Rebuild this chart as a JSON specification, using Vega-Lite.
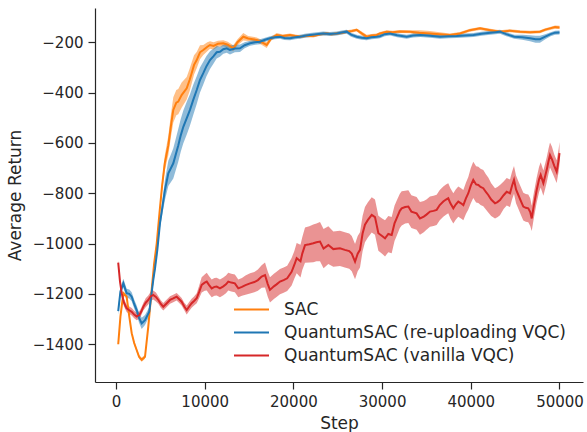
{
"$schema": "https://vega.github.io/schema/vega-lite/v6.json",
"width": 488, "height": 374,
"autosize": {"type": "none"},
"padding": {"left": 95, "top": 8, "right": 4, "bottom": 50},
"background": "white",
"config": {
 "view": {"stroke": null},
 "font": "DejaVu Sans",
 "axis": {"domainColor": "#262626", "tickColor": "#262626", "labelColor": "#262626", "titleColor": "#262626", "labelFont": "DejaVu Sans", "titleFont": "DejaVu Sans", "labelFontSize": 15, "titleFontSize": 17, "titleFontWeight": "normal", "tickSize": 7, "tickWidth": 1.2, "domainWidth": 1.2, "grid": false, "labelPadding": 5}
},
"data": {"values": [
{"s":"SAC","x":250,"y":-1400,"lo":-1405,"hi":-1395},
{"s":"SAC","x":500,"y":-1290,"lo":-1298,"hi":-1282},
{"s":"SAC","x":830,"y":-1197,"lo":-1205,"hi":-1189},
{"s":"SAC","x":1200,"y":-1211,"lo":-1219,"hi":-1203},
{"s":"SAC","x":1500,"y":-1290,"lo":-1298,"hi":-1282},
{"s":"SAC","x":1770,"y":-1356,"lo":-1364,"hi":-1348},
{"s":"SAC","x":2050,"y":-1395,"lo":-1403,"hi":-1387},
{"s":"SAC","x":2330,"y":-1423,"lo":-1431,"hi":-1415},
{"s":"SAC","x":2600,"y":-1450,"lo":-1458,"hi":-1442},
{"s":"SAC","x":2900,"y":-1462,"lo":-1470,"hi":-1454},
{"s":"SAC","x":3270,"y":-1450,"lo":-1458,"hi":-1442},
{"s":"SAC","x":3640,"y":-1330,"lo":-1338,"hi":-1322},
{"s":"SAC","x":4020,"y":-1184,"lo":-1192,"hi":-1176},
{"s":"SAC","x":4300,"y":-1080,"lo":-1090,"hi":-1070},
{"s":"SAC","x":4590,"y":-1000,"lo":-1012,"hi":-988},
{"s":"SAC","x":4900,"y":-880,"lo":-895,"hi":-865},
{"s":"SAC","x":5200,"y":-770,"lo":-790,"hi":-750},
{"s":"SAC","x":5500,"y":-680,"lo":-710,"hi":-650},
{"s":"SAC","x":5900,"y":-610,"lo":-648,"hi":-572},
{"s":"SAC","x":6200,"y":-530,"lo":-575,"hi":-485},
{"s":"SAC","x":6460,"y":-469,"lo":-519,"hi":-419},
{"s":"SAC","x":6800,"y":-440,"lo":-490,"hi":-390},
{"s":"SAC","x":7020,"y":-436,"lo":-486,"hi":-386},
{"s":"SAC","x":7400,"y":-410,"lo":-460,"hi":-360},
{"s":"SAC","x":7970,"y":-383,"lo":-428,"hi":-338},
{"s":"SAC","x":8300,"y":-350,"lo":-395,"hi":-305},
{"s":"SAC","x":8530,"y":-323,"lo":-365,"hi":-281},
{"s":"SAC","x":8800,"y":-290,"lo":-328,"hi":-252},
{"s":"SAC","x":9100,"y":-271,"lo":-303,"hi":-239},
{"s":"SAC","x":9470,"y":-240,"lo":-268,"hi":-212},
{"s":"SAC","x":9840,"y":-231,"lo":-251,"hi":-211},
{"s":"SAC","x":10300,"y":-218,"lo":-236,"hi":-200},
{"s":"SAC","x":10600,"y":-211,"lo":-226,"hi":-196},
{"s":"SAC","x":11000,"y":-215,"lo":-230,"hi":-200},
{"s":"SAC","x":11500,"y":-206,"lo":-218,"hi":-194},
{"s":"SAC","x":12100,"y":-204,"lo":-216,"hi":-192},
{"s":"SAC","x":12600,"y":-210,"lo":-222,"hi":-198},
{"s":"SAC","x":13220,"y":-224,"lo":-236,"hi":-212},
{"s":"SAC","x":13700,"y":-200,"lo":-212,"hi":-188},
{"s":"SAC","x":14350,"y":-178,"lo":-193,"hi":-163},
{"s":"SAC","x":14900,"y":-185,"lo":-195,"hi":-175},
{"s":"SAC","x":15860,"y":-191,"lo":-201,"hi":-181},
{"s":"SAC","x":16400,"y":-200,"lo":-210,"hi":-190},
{"s":"SAC","x":16990,"y":-211,"lo":-223,"hi":-199},
{"s":"SAC","x":17500,"y":-185,"lo":-193,"hi":-177},
{"s":"SAC","x":18120,"y":-171,"lo":-179,"hi":-163},
{"s":"SAC","x":18800,"y":-175,"lo":-181,"hi":-169},
{"s":"SAC","x":19620,"y":-171,"lo":-177,"hi":-165},
{"s":"SAC","x":20200,"y":-175,"lo":-181,"hi":-169},
{"s":"SAC","x":20740,"y":-178,"lo":-184,"hi":-172},
{"s":"SAC","x":21500,"y":-174,"lo":-180,"hi":-168},
{"s":"SAC","x":22240,"y":-175,"lo":-181,"hi":-169},
{"s":"SAC","x":23000,"y":-168,"lo":-174,"hi":-162},
{"s":"SAC","x":23750,"y":-165,"lo":-171,"hi":-159},
{"s":"SAC","x":24300,"y":-168,"lo":-174,"hi":-162},
{"s":"SAC","x":24880,"y":-165,"lo":-171,"hi":-159},
{"s":"SAC","x":25500,"y":-162,"lo":-168,"hi":-156},
{"s":"SAC","x":26010,"y":-158,"lo":-164,"hi":-152},
{"s":"SAC","x":26600,"y":-155,"lo":-161,"hi":-149},
{"s":"SAC","x":27140,"y":-151,"lo":-157,"hi":-145},
{"s":"SAC","x":27700,"y":-165,"lo":-173,"hi":-157},
{"s":"SAC","x":28260,"y":-178,"lo":-186,"hi":-170},
{"s":"SAC","x":28800,"y":-173,"lo":-179,"hi":-167},
{"s":"SAC","x":29390,"y":-171,"lo":-177,"hi":-165},
{"s":"SAC","x":29760,"y":-165,"lo":-171,"hi":-159},
{"s":"SAC","x":30520,"y":-158,"lo":-164,"hi":-152},
{"s":"SAC","x":31200,"y":-160,"lo":-166,"hi":-154},
{"s":"SAC","x":32000,"y":-157,"lo":-163,"hi":-151},
{"s":"SAC","x":33150,"y":-158,"lo":-164,"hi":-152},
{"s":"SAC","x":34200,"y":-162,"lo":-172,"hi":-152},
{"s":"SAC","x":35400,"y":-165,"lo":-175,"hi":-155},
{"s":"SAC","x":36500,"y":-168,"lo":-176,"hi":-160},
{"s":"SAC","x":37650,"y":-171,"lo":-177,"hi":-165},
{"s":"SAC","x":38780,"y":-165,"lo":-171,"hi":-159},
{"s":"SAC","x":39900,"y":-152,"lo":-158,"hi":-146},
{"s":"SAC","x":41040,"y":-145,"lo":-151,"hi":-139},
{"s":"SAC","x":42200,"y":-152,"lo":-158,"hi":-146},
{"s":"SAC","x":43290,"y":-158,"lo":-164,"hi":-152},
{"s":"SAC","x":44400,"y":-154,"lo":-160,"hi":-148},
{"s":"SAC","x":45550,"y":-158,"lo":-164,"hi":-152},
{"s":"SAC","x":46700,"y":-160,"lo":-166,"hi":-154},
{"s":"SAC","x":47800,"y":-158,"lo":-164,"hi":-152},
{"s":"SAC","x":48400,"y":-150,"lo":-156,"hi":-144},
{"s":"SAC","x":48930,"y":-145,"lo":-151,"hi":-139},
{"s":"SAC","x":49500,"y":-140,"lo":-146,"hi":-134},
{"s":"SAC","x":50000,"y":-141,"lo":-147,"hi":-135},
{"s":"QuantumSAC (re-uploading VQC)","x":250,"y":-1268,"lo":-1283,"hi":-1253},
{"s":"QuantumSAC (re-uploading VQC)","x":500,"y":-1190,"lo":-1205,"hi":-1175},
{"s":"QuantumSAC (re-uploading VQC)","x":830,"y":-1158,"lo":-1176,"hi":-1140},
{"s":"QuantumSAC (re-uploading VQC)","x":1200,"y":-1197,"lo":-1215,"hi":-1179},
{"s":"QuantumSAC (re-uploading VQC)","x":1500,"y":-1200,"lo":-1218,"hi":-1182},
{"s":"QuantumSAC (re-uploading VQC)","x":1770,"y":-1211,"lo":-1229,"hi":-1193},
{"s":"QuantumSAC (re-uploading VQC)","x":2050,"y":-1240,"lo":-1258,"hi":-1222},
{"s":"QuantumSAC (re-uploading VQC)","x":2330,"y":-1264,"lo":-1282,"hi":-1246},
{"s":"QuantumSAC (re-uploading VQC)","x":2600,"y":-1295,"lo":-1315,"hi":-1275},
{"s":"QuantumSAC (re-uploading VQC)","x":2900,"y":-1317,"lo":-1339,"hi":-1295},
{"s":"QuantumSAC (re-uploading VQC)","x":3270,"y":-1304,"lo":-1324,"hi":-1284},
{"s":"QuantumSAC (re-uploading VQC)","x":3750,"y":-1271,"lo":-1289,"hi":-1253},
{"s":"QuantumSAC (re-uploading VQC)","x":4200,"y":-1145,"lo":-1160,"hi":-1130},
{"s":"QuantumSAC (re-uploading VQC)","x":4400,"y":-1098,"lo":-1113,"hi":-1083},
{"s":"QuantumSAC (re-uploading VQC)","x":4660,"y":-1025,"lo":-1040,"hi":-1010},
{"s":"QuantumSAC (re-uploading VQC)","x":4960,"y":-919,"lo":-937,"hi":-901},
{"s":"QuantumSAC (re-uploading VQC)","x":5250,"y":-850,"lo":-878,"hi":-822},
{"s":"QuantumSAC (re-uploading VQC)","x":5520,"y":-787,"lo":-827,"hi":-747},
{"s":"QuantumSAC (re-uploading VQC)","x":5900,"y":-721,"lo":-771,"hi":-671},
{"s":"QuantumSAC (re-uploading VQC)","x":6200,"y":-700,"lo":-755,"hi":-645},
{"s":"QuantumSAC (re-uploading VQC)","x":6460,"y":-681,"lo":-741,"hi":-621},
{"s":"QuantumSAC (re-uploading VQC)","x":7020,"y":-610,"lo":-675,"hi":-545},
{"s":"QuantumSAC (re-uploading VQC)","x":7300,"y":-570,"lo":-635,"hi":-505},
{"s":"QuantumSAC (re-uploading VQC)","x":7590,"y":-536,"lo":-601,"hi":-471},
{"s":"QuantumSAC (re-uploading VQC)","x":8000,"y":-500,"lo":-565,"hi":-435},
{"s":"QuantumSAC (re-uploading VQC)","x":8340,"y":-469,"lo":-531,"hi":-407},
{"s":"QuantumSAC (re-uploading VQC)","x":8700,"y":-430,"lo":-490,"hi":-370},
{"s":"QuantumSAC (re-uploading VQC)","x":9100,"y":-390,"lo":-445,"hi":-335},
{"s":"QuantumSAC (re-uploading VQC)","x":9470,"y":-350,"lo":-400,"hi":-300},
{"s":"QuantumSAC (re-uploading VQC)","x":9840,"y":-323,"lo":-368,"hi":-278},
{"s":"QuantumSAC (re-uploading VQC)","x":10200,"y":-295,"lo":-335,"hi":-255},
{"s":"QuantumSAC (re-uploading VQC)","x":10600,"y":-271,"lo":-306,"hi":-236},
{"s":"QuantumSAC (re-uploading VQC)","x":11000,"y":-255,"lo":-285,"hi":-225},
{"s":"QuantumSAC (re-uploading VQC)","x":11350,"y":-240,"lo":-265,"hi":-215},
{"s":"QuantumSAC (re-uploading VQC)","x":11720,"y":-238,"lo":-258,"hi":-218},
{"s":"QuantumSAC (re-uploading VQC)","x":12100,"y":-228,"lo":-246,"hi":-210},
{"s":"QuantumSAC (re-uploading VQC)","x":12480,"y":-224,"lo":-242,"hi":-206},
{"s":"QuantumSAC (re-uploading VQC)","x":12850,"y":-231,"lo":-249,"hi":-213},
{"s":"QuantumSAC (re-uploading VQC)","x":13400,"y":-225,"lo":-240,"hi":-210},
{"s":"QuantumSAC (re-uploading VQC)","x":13980,"y":-224,"lo":-239,"hi":-209},
{"s":"QuantumSAC (re-uploading VQC)","x":14500,"y":-212,"lo":-224,"hi":-200},
{"s":"QuantumSAC (re-uploading VQC)","x":15110,"y":-204,"lo":-214,"hi":-194},
{"s":"QuantumSAC (re-uploading VQC)","x":15700,"y":-200,"lo":-210,"hi":-190},
{"s":"QuantumSAC (re-uploading VQC)","x":16230,"y":-198,"lo":-208,"hi":-188},
{"s":"QuantumSAC (re-uploading VQC)","x":16800,"y":-190,"lo":-198,"hi":-182},
{"s":"QuantumSAC (re-uploading VQC)","x":17360,"y":-184,"lo":-192,"hi":-176},
{"s":"QuantumSAC (re-uploading VQC)","x":17900,"y":-180,"lo":-188,"hi":-172},
{"s":"QuantumSAC (re-uploading VQC)","x":18490,"y":-178,"lo":-186,"hi":-170},
{"s":"QuantumSAC (re-uploading VQC)","x":19000,"y":-183,"lo":-191,"hi":-175},
{"s":"QuantumSAC (re-uploading VQC)","x":19620,"y":-184,"lo":-192,"hi":-176},
{"s":"QuantumSAC (re-uploading VQC)","x":20200,"y":-180,"lo":-188,"hi":-172},
{"s":"QuantumSAC (re-uploading VQC)","x":20740,"y":-178,"lo":-186,"hi":-170},
{"s":"QuantumSAC (re-uploading VQC)","x":21300,"y":-174,"lo":-182,"hi":-166},
{"s":"QuantumSAC (re-uploading VQC)","x":21870,"y":-171,"lo":-179,"hi":-163},
{"s":"QuantumSAC (re-uploading VQC)","x":22600,"y":-168,"lo":-176,"hi":-160},
{"s":"QuantumSAC (re-uploading VQC)","x":23370,"y":-165,"lo":-173,"hi":-157},
{"s":"QuantumSAC (re-uploading VQC)","x":24100,"y":-167,"lo":-175,"hi":-159},
{"s":"QuantumSAC (re-uploading VQC)","x":24880,"y":-165,"lo":-173,"hi":-157},
{"s":"QuantumSAC (re-uploading VQC)","x":25600,"y":-160,"lo":-168,"hi":-152},
{"s":"QuantumSAC (re-uploading VQC)","x":26010,"y":-158,"lo":-166,"hi":-150},
{"s":"QuantumSAC (re-uploading VQC)","x":26500,"y":-170,"lo":-178,"hi":-162},
{"s":"QuantumSAC (re-uploading VQC)","x":27140,"y":-178,"lo":-186,"hi":-170},
{"s":"QuantumSAC (re-uploading VQC)","x":27700,"y":-182,"lo":-190,"hi":-174},
{"s":"QuantumSAC (re-uploading VQC)","x":28260,"y":-184,"lo":-192,"hi":-176},
{"s":"QuantumSAC (re-uploading VQC)","x":28800,"y":-180,"lo":-188,"hi":-172},
{"s":"QuantumSAC (re-uploading VQC)","x":29390,"y":-178,"lo":-186,"hi":-170},
{"s":"QuantumSAC (re-uploading VQC)","x":29760,"y":-176,"lo":-184,"hi":-168},
{"s":"QuantumSAC (re-uploading VQC)","x":30300,"y":-168,"lo":-176,"hi":-160},
{"s":"QuantumSAC (re-uploading VQC)","x":30890,"y":-165,"lo":-173,"hi":-157},
{"s":"QuantumSAC (re-uploading VQC)","x":31700,"y":-172,"lo":-180,"hi":-164},
{"s":"QuantumSAC (re-uploading VQC)","x":32770,"y":-178,"lo":-186,"hi":-170},
{"s":"QuantumSAC (re-uploading VQC)","x":33500,"y":-173,"lo":-181,"hi":-165},
{"s":"QuantumSAC (re-uploading VQC)","x":34300,"y":-171,"lo":-179,"hi":-163},
{"s":"QuantumSAC (re-uploading VQC)","x":35400,"y":-174,"lo":-182,"hi":-166},
{"s":"QuantumSAC (re-uploading VQC)","x":36530,"y":-178,"lo":-186,"hi":-170},
{"s":"QuantumSAC (re-uploading VQC)","x":37500,"y":-176,"lo":-184,"hi":-168},
{"s":"QuantumSAC (re-uploading VQC)","x":38400,"y":-175,"lo":-183,"hi":-167},
{"s":"QuantumSAC (re-uploading VQC)","x":39300,"y":-173,"lo":-181,"hi":-165},
{"s":"QuantumSAC (re-uploading VQC)","x":40300,"y":-171,"lo":-179,"hi":-163},
{"s":"QuantumSAC (re-uploading VQC)","x":41200,"y":-166,"lo":-174,"hi":-158},
{"s":"QuantumSAC (re-uploading VQC)","x":42200,"y":-162,"lo":-170,"hi":-154},
{"s":"QuantumSAC (re-uploading VQC)","x":43290,"y":-158,"lo":-166,"hi":-150},
{"s":"QuantumSAC (re-uploading VQC)","x":44000,"y":-168,"lo":-176,"hi":-160},
{"s":"QuantumSAC (re-uploading VQC)","x":44900,"y":-178,"lo":-186,"hi":-170},
{"s":"QuantumSAC (re-uploading VQC)","x":45800,"y":-180,"lo":-190,"hi":-170},
{"s":"QuantumSAC (re-uploading VQC)","x":46680,"y":-184,"lo":-196,"hi":-172},
{"s":"QuantumSAC (re-uploading VQC)","x":47300,"y":-188,"lo":-202,"hi":-174},
{"s":"QuantumSAC (re-uploading VQC)","x":47800,"y":-188,"lo":-202,"hi":-174},
{"s":"QuantumSAC (re-uploading VQC)","x":48400,"y":-178,"lo":-188,"hi":-168},
{"s":"QuantumSAC (re-uploading VQC)","x":49000,"y":-168,"lo":-176,"hi":-160},
{"s":"QuantumSAC (re-uploading VQC)","x":49500,"y":-162,"lo":-170,"hi":-154},
{"s":"QuantumSAC (re-uploading VQC)","x":50000,"y":-161,"lo":-169,"hi":-153},
{"s":"QuantumSAC (vanilla VQC)","x":250,"y":-1076,"lo":-1086,"hi":-1066},
{"s":"QuantumSAC (vanilla VQC)","x":450,"y":-1150,"lo":-1162,"hi":-1138},
{"s":"QuantumSAC (vanilla VQC)","x":640,"y":-1197,"lo":-1212,"hi":-1182},
{"s":"QuantumSAC (vanilla VQC)","x":900,"y":-1235,"lo":-1250,"hi":-1220},
{"s":"QuantumSAC (vanilla VQC)","x":1200,"y":-1257,"lo":-1272,"hi":-1242},
{"s":"QuantumSAC (vanilla VQC)","x":1500,"y":-1265,"lo":-1280,"hi":-1250},
{"s":"QuantumSAC (vanilla VQC)","x":1770,"y":-1271,"lo":-1286,"hi":-1256},
{"s":"QuantumSAC (vanilla VQC)","x":2050,"y":-1282,"lo":-1297,"hi":-1267},
{"s":"QuantumSAC (vanilla VQC)","x":2330,"y":-1290,"lo":-1305,"hi":-1275},
{"s":"QuantumSAC (vanilla VQC)","x":2630,"y":-1284,"lo":-1299,"hi":-1269},
{"s":"QuantumSAC (vanilla VQC)","x":2850,"y":-1270,"lo":-1285,"hi":-1255},
{"s":"QuantumSAC (vanilla VQC)","x":3080,"y":-1251,"lo":-1266,"hi":-1236},
{"s":"QuantumSAC (vanilla VQC)","x":3350,"y":-1235,"lo":-1253,"hi":-1217},
{"s":"QuantumSAC (vanilla VQC)","x":3640,"y":-1224,"lo":-1242,"hi":-1206},
{"s":"QuantumSAC (vanilla VQC)","x":3900,"y":-1210,"lo":-1228,"hi":-1192},
{"s":"QuantumSAC (vanilla VQC)","x":4200,"y":-1204,"lo":-1222,"hi":-1186},
{"s":"QuantumSAC (vanilla VQC)","x":4500,"y":-1212,"lo":-1230,"hi":-1194},
{"s":"QuantumSAC (vanilla VQC)","x":4770,"y":-1224,"lo":-1239,"hi":-1209},
{"s":"QuantumSAC (vanilla VQC)","x":5050,"y":-1240,"lo":-1255,"hi":-1225},
{"s":"QuantumSAC (vanilla VQC)","x":5330,"y":-1251,"lo":-1266,"hi":-1236},
{"s":"QuantumSAC (vanilla VQC)","x":5700,"y":-1238,"lo":-1253,"hi":-1223},
{"s":"QuantumSAC (vanilla VQC)","x":6090,"y":-1224,"lo":-1239,"hi":-1209},
{"s":"QuantumSAC (vanilla VQC)","x":6450,"y":-1218,"lo":-1233,"hi":-1203},
{"s":"QuantumSAC (vanilla VQC)","x":6840,"y":-1211,"lo":-1226,"hi":-1196},
{"s":"QuantumSAC (vanilla VQC)","x":7100,"y":-1220,"lo":-1235,"hi":-1205},
{"s":"QuantumSAC (vanilla VQC)","x":7400,"y":-1231,"lo":-1246,"hi":-1216},
{"s":"QuantumSAC (vanilla VQC)","x":7700,"y":-1250,"lo":-1265,"hi":-1235},
{"s":"QuantumSAC (vanilla VQC)","x":7970,"y":-1264,"lo":-1282,"hi":-1246},
{"s":"QuantumSAC (vanilla VQC)","x":8250,"y":-1250,"lo":-1268,"hi":-1232},
{"s":"QuantumSAC (vanilla VQC)","x":8530,"y":-1237,"lo":-1255,"hi":-1219},
{"s":"QuantumSAC (vanilla VQC)","x":8800,"y":-1228,"lo":-1246,"hi":-1210},
{"s":"QuantumSAC (vanilla VQC)","x":9100,"y":-1217,"lo":-1237,"hi":-1197},
{"s":"QuantumSAC (vanilla VQC)","x":9400,"y":-1190,"lo":-1215,"hi":-1165},
{"s":"QuantumSAC (vanilla VQC)","x":9660,"y":-1164,"lo":-1194,"hi":-1134},
{"s":"QuantumSAC (vanilla VQC)","x":10000,"y":-1155,"lo":-1187,"hi":-1123},
{"s":"QuantumSAC (vanilla VQC)","x":10230,"y":-1151,"lo":-1186,"hi":-1116},
{"s":"QuantumSAC (vanilla VQC)","x":10500,"y":-1165,"lo":-1200,"hi":-1130},
{"s":"QuantumSAC (vanilla VQC)","x":10790,"y":-1178,"lo":-1213,"hi":-1143},
{"s":"QuantumSAC (vanilla VQC)","x":11100,"y":-1172,"lo":-1207,"hi":-1137},
{"s":"QuantumSAC (vanilla VQC)","x":11350,"y":-1171,"lo":-1206,"hi":-1136},
{"s":"QuantumSAC (vanilla VQC)","x":11720,"y":-1178,"lo":-1213,"hi":-1143},
{"s":"QuantumSAC (vanilla VQC)","x":12100,"y":-1170,"lo":-1205,"hi":-1135},
{"s":"QuantumSAC (vanilla VQC)","x":12400,"y":-1162,"lo":-1197,"hi":-1127},
{"s":"QuantumSAC (vanilla VQC)","x":12660,"y":-1151,"lo":-1186,"hi":-1116},
{"s":"QuantumSAC (vanilla VQC)","x":13000,"y":-1155,"lo":-1190,"hi":-1120},
{"s":"QuantumSAC (vanilla VQC)","x":13400,"y":-1158,"lo":-1193,"hi":-1123},
{"s":"QuantumSAC (vanilla VQC)","x":13790,"y":-1178,"lo":-1213,"hi":-1143},
{"s":"QuantumSAC (vanilla VQC)","x":14200,"y":-1172,"lo":-1207,"hi":-1137},
{"s":"QuantumSAC (vanilla VQC)","x":14600,"y":-1165,"lo":-1203,"hi":-1127},
{"s":"QuantumSAC (vanilla VQC)","x":15110,"y":-1158,"lo":-1198,"hi":-1118},
{"s":"QuantumSAC (vanilla VQC)","x":15600,"y":-1153,"lo":-1193,"hi":-1113},
{"s":"QuantumSAC (vanilla VQC)","x":16000,"y":-1145,"lo":-1187,"hi":-1103},
{"s":"QuantumSAC (vanilla VQC)","x":16420,"y":-1131,"lo":-1176,"hi":-1086},
{"s":"QuantumSAC (vanilla VQC)","x":16800,"y":-1125,"lo":-1175,"hi":-1075},
{"s":"QuantumSAC (vanilla VQC)","x":17100,"y":-1160,"lo":-1210,"hi":-1110},
{"s":"QuantumSAC (vanilla VQC)","x":17360,"y":-1184,"lo":-1234,"hi":-1134},
{"s":"QuantumSAC (vanilla VQC)","x":17800,"y":-1170,"lo":-1220,"hi":-1120},
{"s":"QuantumSAC (vanilla VQC)","x":18100,"y":-1162,"lo":-1212,"hi":-1112},
{"s":"QuantumSAC (vanilla VQC)","x":18490,"y":-1151,"lo":-1201,"hi":-1101},
{"s":"QuantumSAC (vanilla VQC)","x":18900,"y":-1145,"lo":-1195,"hi":-1095},
{"s":"QuantumSAC (vanilla VQC)","x":19300,"y":-1138,"lo":-1188,"hi":-1088},
{"s":"QuantumSAC (vanilla VQC)","x":19800,"y":-1112,"lo":-1167,"hi":-1057},
{"s":"QuantumSAC (vanilla VQC)","x":20100,"y":-1085,"lo":-1140,"hi":-1030},
{"s":"QuantumSAC (vanilla VQC)","x":20370,"y":-1058,"lo":-1118,"hi":-998},
{"s":"QuantumSAC (vanilla VQC)","x":20800,"y":-1070,"lo":-1135,"hi":-1005},
{"s":"QuantumSAC (vanilla VQC)","x":21000,"y":-1040,"lo":-1105,"hi":-975},
{"s":"QuantumSAC (vanilla VQC)","x":21310,"y":-1006,"lo":-1076,"hi":-936},
{"s":"QuantumSAC (vanilla VQC)","x":21800,"y":-1003,"lo":-1075,"hi":-931},
{"s":"QuantumSAC (vanilla VQC)","x":22240,"y":-999,"lo":-1074,"hi":-924},
{"s":"QuantumSAC (vanilla VQC)","x":22600,"y":-995,"lo":-1070,"hi":-920},
{"s":"QuantumSAC (vanilla VQC)","x":23000,"y":-992,"lo":-1070,"hi":-914},
{"s":"QuantumSAC (vanilla VQC)","x":23400,"y":-1020,"lo":-1098,"hi":-942},
{"s":"QuantumSAC (vanilla VQC)","x":23940,"y":-1006,"lo":-1081,"hi":-931},
{"s":"QuantumSAC (vanilla VQC)","x":24500,"y":-1022,"lo":-1092,"hi":-952},
{"s":"QuantumSAC (vanilla VQC)","x":25250,"y":-1019,"lo":-1089,"hi":-949},
{"s":"QuantumSAC (vanilla VQC)","x":25800,"y":-1025,"lo":-1095,"hi":-955},
{"s":"QuantumSAC (vanilla VQC)","x":26300,"y":-1030,"lo":-1100,"hi":-960},
{"s":"QuantumSAC (vanilla VQC)","x":26580,"y":-1040,"lo":-1110,"hi":-970},
{"s":"QuantumSAC (vanilla VQC)","x":26950,"y":-1072,"lo":-1142,"hi":-1002},
{"s":"QuantumSAC (vanilla VQC)","x":27250,"y":-1040,"lo":-1110,"hi":-970},
{"s":"QuantumSAC (vanilla VQC)","x":27510,"y":-1025,"lo":-1095,"hi":-955},
{"s":"QuantumSAC (vanilla VQC)","x":27800,"y":-960,"lo":-1030,"hi":-890},
{"s":"QuantumSAC (vanilla VQC)","x":28070,"y":-925,"lo":-995,"hi":-855},
{"s":"QuantumSAC (vanilla VQC)","x":28400,"y":-906,"lo":-976,"hi":-836},
{"s":"QuantumSAC (vanilla VQC)","x":28830,"y":-886,"lo":-956,"hi":-816},
{"s":"QuantumSAC (vanilla VQC)","x":29200,"y":-895,"lo":-965,"hi":-825},
{"s":"QuantumSAC (vanilla VQC)","x":29580,"y":-959,"lo":-1029,"hi":-889},
{"s":"QuantumSAC (vanilla VQC)","x":30000,"y":-970,"lo":-1040,"hi":-900},
{"s":"QuantumSAC (vanilla VQC)","x":30330,"y":-979,"lo":-1051,"hi":-907},
{"s":"QuantumSAC (vanilla VQC)","x":30700,"y":-962,"lo":-1034,"hi":-890},
{"s":"QuantumSAC (vanilla VQC)","x":31080,"y":-966,"lo":-1038,"hi":-894},
{"s":"QuantumSAC (vanilla VQC)","x":31400,"y":-920,"lo":-990,"hi":-850},
{"s":"QuantumSAC (vanilla VQC)","x":31640,"y":-900,"lo":-970,"hi":-830},
{"s":"QuantumSAC (vanilla VQC)","x":32000,"y":-870,"lo":-938,"hi":-802},
{"s":"QuantumSAC (vanilla VQC)","x":32210,"y":-860,"lo":-928,"hi":-792},
{"s":"QuantumSAC (vanilla VQC)","x":32600,"y":-855,"lo":-920,"hi":-790},
{"s":"QuantumSAC (vanilla VQC)","x":32960,"y":-853,"lo":-918,"hi":-788},
{"s":"QuantumSAC (vanilla VQC)","x":33300,"y":-873,"lo":-938,"hi":-808},
{"s":"QuantumSAC (vanilla VQC)","x":33890,"y":-880,"lo":-945,"hi":-815},
{"s":"QuantumSAC (vanilla VQC)","x":34270,"y":-900,"lo":-965,"hi":-835},
{"s":"QuantumSAC (vanilla VQC)","x":34700,"y":-893,"lo":-955,"hi":-831},
{"s":"QuantumSAC (vanilla VQC)","x":35000,"y":-885,"lo":-945,"hi":-825},
{"s":"QuantumSAC (vanilla VQC)","x":35400,"y":-873,"lo":-933,"hi":-813},
{"s":"QuantumSAC (vanilla VQC)","x":35800,"y":-870,"lo":-930,"hi":-810},
{"s":"QuantumSAC (vanilla VQC)","x":36150,"y":-866,"lo":-926,"hi":-806},
{"s":"QuantumSAC (vanilla VQC)","x":36500,"y":-847,"lo":-907,"hi":-787},
{"s":"QuantumSAC (vanilla VQC)","x":36900,"y":-833,"lo":-893,"hi":-773},
{"s":"QuantumSAC (vanilla VQC)","x":37200,"y":-825,"lo":-885,"hi":-765},
{"s":"QuantumSAC (vanilla VQC)","x":37460,"y":-820,"lo":-880,"hi":-760},
{"s":"QuantumSAC (vanilla VQC)","x":37700,"y":-840,"lo":-900,"hi":-780},
{"s":"QuantumSAC (vanilla VQC)","x":38030,"y":-860,"lo":-920,"hi":-800},
{"s":"QuantumSAC (vanilla VQC)","x":38300,"y":-845,"lo":-905,"hi":-785},
{"s":"QuantumSAC (vanilla VQC)","x":38590,"y":-833,"lo":-893,"hi":-773},
{"s":"QuantumSAC (vanilla VQC)","x":38900,"y":-840,"lo":-900,"hi":-780},
{"s":"QuantumSAC (vanilla VQC)","x":39160,"y":-847,"lo":-907,"hi":-787},
{"s":"QuantumSAC (vanilla VQC)","x":39450,"y":-820,"lo":-882,"hi":-758},
{"s":"QuantumSAC (vanilla VQC)","x":39720,"y":-800,"lo":-865,"hi":-735},
{"s":"QuantumSAC (vanilla VQC)","x":40000,"y":-770,"lo":-840,"hi":-700},
{"s":"QuantumSAC (vanilla VQC)","x":40280,"y":-747,"lo":-819,"hi":-675},
{"s":"QuantumSAC (vanilla VQC)","x":40600,"y":-765,"lo":-837,"hi":-693},
{"s":"QuantumSAC (vanilla VQC)","x":40850,"y":-767,"lo":-839,"hi":-695},
{"s":"QuantumSAC (vanilla VQC)","x":41100,"y":-775,"lo":-847,"hi":-703},
{"s":"QuantumSAC (vanilla VQC)","x":41410,"y":-780,"lo":-852,"hi":-708},
{"s":"QuantumSAC (vanilla VQC)","x":41700,"y":-795,"lo":-865,"hi":-725},
{"s":"QuantumSAC (vanilla VQC)","x":41970,"y":-807,"lo":-877,"hi":-737},
{"s":"QuantumSAC (vanilla VQC)","x":42300,"y":-825,"lo":-890,"hi":-760},
{"s":"QuantumSAC (vanilla VQC)","x":42730,"y":-840,"lo":-900,"hi":-780},
{"s":"QuantumSAC (vanilla VQC)","x":43000,"y":-835,"lo":-895,"hi":-775},
{"s":"QuantumSAC (vanilla VQC)","x":43290,"y":-827,"lo":-887,"hi":-767},
{"s":"QuantumSAC (vanilla VQC)","x":43700,"y":-808,"lo":-863,"hi":-753},
{"s":"QuantumSAC (vanilla VQC)","x":44050,"y":-794,"lo":-849,"hi":-739},
{"s":"QuantumSAC (vanilla VQC)","x":44420,"y":-800,"lo":-855,"hi":-745},
{"s":"QuantumSAC (vanilla VQC)","x":44650,"y":-770,"lo":-825,"hi":-715},
{"s":"QuantumSAC (vanilla VQC)","x":44870,"y":-747,"lo":-802,"hi":-692},
{"s":"QuantumSAC (vanilla VQC)","x":45100,"y":-785,"lo":-840,"hi":-730},
{"s":"QuantumSAC (vanilla VQC)","x":45360,"y":-807,"lo":-862,"hi":-752},
{"s":"QuantumSAC (vanilla VQC)","x":45700,"y":-835,"lo":-890,"hi":-780},
{"s":"QuantumSAC (vanilla VQC)","x":45920,"y":-853,"lo":-908,"hi":-798},
{"s":"QuantumSAC (vanilla VQC)","x":46200,"y":-858,"lo":-913,"hi":-803},
{"s":"QuantumSAC (vanilla VQC)","x":46480,"y":-860,"lo":-915,"hi":-805},
{"s":"QuantumSAC (vanilla VQC)","x":46700,"y":-875,"lo":-930,"hi":-820},
{"s":"QuantumSAC (vanilla VQC)","x":46870,"y":-900,"lo":-950,"hi":-850},
{"s":"QuantumSAC (vanilla VQC)","x":47100,"y":-850,"lo":-900,"hi":-800},
{"s":"QuantumSAC (vanilla VQC)","x":47430,"y":-787,"lo":-837,"hi":-737},
{"s":"QuantumSAC (vanilla VQC)","x":47700,"y":-745,"lo":-795,"hi":-695},
{"s":"QuantumSAC (vanilla VQC)","x":47880,"y":-727,"lo":-777,"hi":-677},
{"s":"QuantumSAC (vanilla VQC)","x":48180,"y":-760,"lo":-810,"hi":-710},
{"s":"QuantumSAC (vanilla VQC)","x":48400,"y":-730,"lo":-780,"hi":-680},
{"s":"QuantumSAC (vanilla VQC)","x":48560,"y":-707,"lo":-757,"hi":-657},
{"s":"QuantumSAC (vanilla VQC)","x":48750,"y":-675,"lo":-725,"hi":-625},
{"s":"QuantumSAC (vanilla VQC)","x":48930,"y":-648,"lo":-698,"hi":-598},
{"s":"QuantumSAC (vanilla VQC)","x":49150,"y":-665,"lo":-715,"hi":-615},
{"s":"QuantumSAC (vanilla VQC)","x":49400,"y":-690,"lo":-735,"hi":-645},
{"s":"QuantumSAC (vanilla VQC)","x":49680,"y":-714,"lo":-759,"hi":-669},
{"s":"QuantumSAC (vanilla VQC)","x":49900,"y":-670,"lo":-715,"hi":-625},
{"s":"QuantumSAC (vanilla VQC)","x":50000,"y":-641,"lo":-686,"hi":-596}
]},
"resolve": {"legend": {"color": "independent"}},
"encoding": {
 "x": {"field": "x", "type": "quantitative", "scale": {"domain": [-2367, 52650], "nice": false, "zero": false}, "axis": {"title": "Step", "values": [0, 10000, 20000, 30000, 40000, 50000], "format": "d", "titlePadding": 6}}
},
"layer": [
 {"mark": {"type": "area", "opacity": 0.5},
  "encoding": {
   "y": {"field": "lo", "type": "quantitative", "scale": {"domain": [-1550, -64], "nice": false, "zero": false}, "axis": {"title": "Average Return", "values": [-1400, -1200, -1000, -800, -600, -400, -200], "format": "d", "titlePadding": 8}},
   "y2": {"field": "hi"},
   "color": {"field": "s", "type": "nominal", "scale": {"domain": ["SAC", "QuantumSAC (re-uploading VQC)", "QuantumSAC (vanilla VQC)"], "range": ["#ff7f0e", "#1f77b4", "#d62728"]}, "legend": null}
  }},
 {"mark": {"type": "line", "strokeWidth": 2},
  "encoding": {
   "y": {"field": "y", "type": "quantitative", "scale": {"domain": [-1550, -64], "nice": false, "zero": false}, "axis": {"title": "Average Return", "values": [-1400, -1200, -1000, -800, -600, -400, -200], "format": "d", "titlePadding": 8}},
   "color": {"field": "s", "type": "nominal", "scale": {"domain": ["SAC", "QuantumSAC (re-uploading VQC)", "QuantumSAC (vanilla VQC)"], "range": ["#ff7f0e", "#1f77b4", "#d62728"]},
     "legend": {"title": null, "orient": "none", "legendX": 148, "legendY": 293, "symbolType": "M-2.5,0H2.5", "symbolSize": 196, "symbolStrokeWidth": 2, "labelFontSize": 17, "labelFont": "DejaVu Sans", "labelColor": "#262626", "labelOffset": 24, "rowPadding": 5, "padding": 0, "labelLimit": 400}}
  }}
]
}
